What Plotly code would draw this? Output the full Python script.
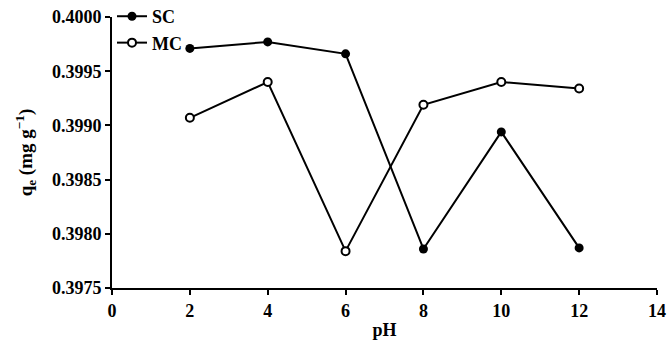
import plotly.graph_objects as go

ph = [2, 4, 6, 8, 10, 12]
sc = [0.39971, 0.39977, 0.39966, 0.39786, 0.39894, 0.39787]
mc = [0.39907, 0.39940, 0.39784, 0.39919, 0.39940, 0.39934]

x_ticks = [0, 2, 4, 6, 8, 10, 12, 14]
y_ticks = [0.3975, 0.3980, 0.3985, 0.3990, 0.3995, 0.4000]

font = dict(family="Liberation Serif", size=18, color="black", weight="bold")

fig = go.Figure()
fig.add_trace(go.Scatter(x=ph, y=sc, name="SC", mode="lines+markers",
                         line=dict(color="black", width=2),
                         marker=dict(symbol="circle", size=9, color="black")))
fig.add_trace(go.Scatter(x=ph, y=mc, name="MC", mode="lines+markers",
                         line=dict(color="black", width=2),
                         marker=dict(symbol="circle", size=8, color="white",
                                     line=dict(color="black", width=2))))

fig.update_layout(
    width=668, height=349,
    margin=dict(l=112, r=11, t=17, b=61, autoexpand=False),
    paper_bgcolor="white", plot_bgcolor="white",
    font=font,
    showlegend=True,
    legend=dict(x=0.0, y=1.07, xanchor="left", yanchor="top",
                bgcolor="rgba(0,0,0,0)", font=font, tracegroupgap=0,
                itemwidth=30),
    xaxis=dict(range=[0, 14], tickvals=x_ticks, ticktext=[str(v) for v in x_ticks],
               showgrid=False, zeroline=False, showline=True, linecolor="black",
               linewidth=2, ticks="outside", ticklen=5, tickwidth=2, tickcolor="black",
               title=dict(text="pH", font=font, standoff=4), tickfont=font),
    yaxis=dict(range=[0.3975, 0.4000], tickvals=y_ticks,
               ticktext=[f"{v:.4f}" for v in y_ticks],
               showgrid=False, zeroline=False, showline=True, linecolor="black",
               linewidth=2, ticks="outside", ticklen=5, tickwidth=2, tickcolor="black",
               title=dict(text="q<sub>e</sub> (mg g<sup>−1</sup>)",
                          font=dict(family="Liberation Serif", size=19, color="black", weight="bold"),
                          standoff=14),
               tickfont=font),
)

fig.write_html("out.html")
